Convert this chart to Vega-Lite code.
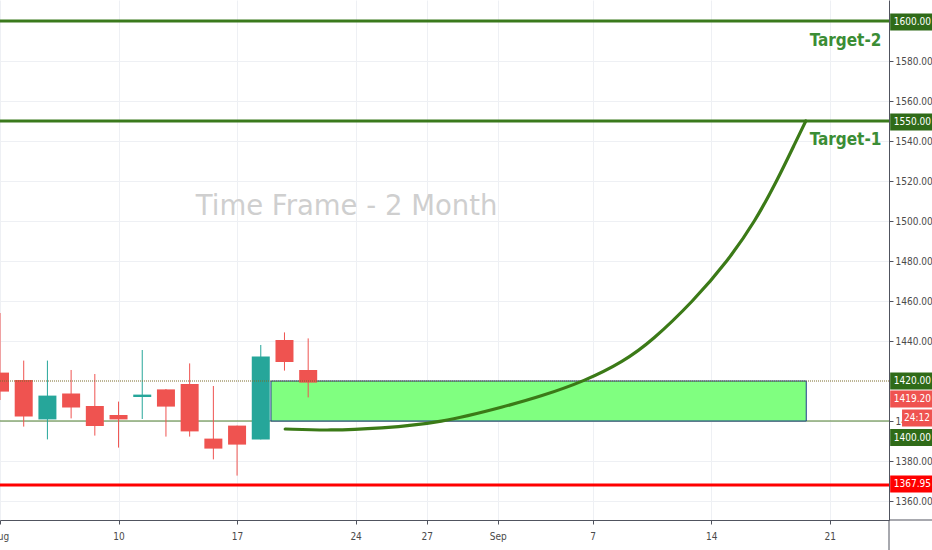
{
  "$schema": "https://vega.github.io/schema/vega-lite/v6.json",
  "width": 889,
  "height": 520,
  "autosize": {"type": "none"},
  "padding": {"left": 0, "top": 0, "right": 43, "bottom": 30},
  "background": "white",
  "view": {"stroke": null},
  "config": {
    "font": "DejaVu Sans Condensed",
    "scale": {"continuousPadding": 0},
    "axis": {
      "domainColor": "#50535e",
      "tickColor": "#50535e",
      "labelColor": "#4a4a4a",
      "labelFontSize": 10,
      "labelFont": "DejaVu Sans Condensed",
      "gridColor": "#eef0f4",
      "gridWidth": 1,
      "tickSize": 4,
      "domainWidth": 1
    }
  },
  "datasets": {
    "candles": [
      {"d": "2020-08-03", "i": 0, "o": 1424.2, "h": 1454, "l": 1410.5, "c": 1414.7},
      {"d": "2020-08-04", "i": 1, "o": 1420.5, "h": 1430.2, "l": 1397.2, "c": 1402.2},
      {"d": "2020-08-05", "i": 2, "o": 1400.8, "h": 1430.2, "l": 1390.8, "c": 1412.7},
      {"d": "2020-08-06", "i": 3, "o": 1413.7, "h": 1425.5, "l": 1401.3, "c": 1406.8},
      {"d": "2020-08-07", "i": 4, "o": 1407.5, "h": 1423.5, "l": 1392.7, "c": 1397.5},
      {"d": "2020-08-10", "i": 5, "o": 1403, "h": 1409.7, "l": 1386.7, "c": 1400.8},
      {"d": "2020-08-11", "i": 6, "o": 1412, "h": 1435.5, "l": 1401, "c": 1413.2},
      {"d": "2020-08-12", "i": 7, "o": 1415.8, "h": 1416, "l": 1392.2, "c": 1407.2},
      {"d": "2020-08-13", "i": 8, "o": 1418.5, "h": 1428.8, "l": 1392.2, "c": 1394.8},
      {"d": "2020-08-14", "i": 9, "o": 1391.2, "h": 1417.5, "l": 1380.8, "c": 1386.2},
      {"d": "2020-08-17", "i": 10, "o": 1397.7, "h": 1397.7, "l": 1372.7, "c": 1388.2},
      {"d": "2020-08-18", "i": 11, "o": 1390.8, "h": 1438, "l": 1390.8, "c": 1432.2},
      {"d": "2020-08-19", "i": 12, "o": 1440.5, "h": 1444.3, "l": 1425.2, "c": 1429.5},
      {"d": "2020-08-20", "i": 13, "o": 1425.5, "h": 1441.3, "l": 1411.8, "c": 1419.2}
    ],
    "curve": [
      {"i": 12.03, "v": 1396.0},
      {"i": 13.92, "v": 1395.2},
      {"i": 16.03, "v": 1396.3},
      {"i": 18.57, "v": 1398.9},
      {"i": 21.38, "v": 1407.5},
      {"i": 22.78, "v": 1412.2},
      {"i": 24.68, "v": 1420.0},
      {"i": 26.3, "v": 1429.7},
      {"i": 27.5, "v": 1440.0},
      {"i": 29.25, "v": 1460.0},
      {"i": 30.7, "v": 1480.0},
      {"i": 31.86, "v": 1500.0},
      {"i": 32.77, "v": 1520.0},
      {"i": 33.58, "v": 1540.0},
      {"i": 33.99, "v": 1550.0}
    ],
    "tags": [
      {"v": 1599.5, "label": "1600.00", "k": "target"},
      {"v": 1549.5, "label": "1550.00", "k": "target"},
      {"v": 1420, "label": "1420.00", "k": "target"},
      {"v": 1411, "label": "1419.20", "k": "last"},
      {"v": 1391.75, "label": "1400.00", "k": "target"},
      {"v": 1368.5, "label": "1367.95", "k": "stop"}
    ]
  },
  "layer": [
    {
      "data": {"values": [{"v": 1400}]},
      "mark": {"type": "rule", "color": "#4e7f2e", "strokeWidth": 1},
      "encoding": {
        "y": {"field": "v", "type": "quantitative", "scale": {"domain": [1350.5, 1610.5], "nice": false, "zero": false, "padding": 0}, "title": null}
      }
    },
    {
      "data": {"values": [{"x1": 11.43, "x2": 34.01, "lo": 1400, "hi": 1420}]},
      "mark": {"type": "rect", "fill": "#80ff80", "stroke": "#1e3c8c", "strokeWidth": 1},
      "encoding": {
        "x": {"field": "x1", "type": "quantitative", "scale": {"domain": [0, 37.5], "nice": false, "zero": false, "padding": 0}, "title": null},
        "x2": {"field": "x2"},
        "y": {"field": "hi", "type": "quantitative", "scale": {"domain": [1350.5, 1610.5], "nice": false, "zero": false, "padding": 0}, "title": null},
        "y2": {"field": "lo"}
      }
    },
    {
      "data": {"name": "candles"},
      "mark": {"type": "rule", "strokeWidth": 1},
      "encoding": {
        "x": {"field": "i", "type": "quantitative", "scale": {"domain": [0, 37.5], "nice": false, "zero": false, "padding": 0}, "title": null,
          "axis": {"orient": "bottom", "values": [0, 5, 10, 15, 18, 21, 25, 30, 35],
            "labelExpr": "['Aug','10','17','24','27','Sep','7','14','21'][indexof([0,5,10,15,18,21,25,30,35], datum.value)]",
            "labelFlush": false, "labelPadding": 7, "grid": true, "labelOverlap": false}},
        "y": {"field": "l", "type": "quantitative", "scale": {"domain": [1350.5, 1610.5], "nice": false, "zero": false, "padding": 0}, "title": null,
          "axis": {"orient": "right", "values": [1360, 1380, 1400, 1440, 1460, 1480, 1500, 1520, 1540, 1560, 1580],
            "format": ".2f", "labelPadding": 2, "grid": true, "labelOverlap": false}},
        "y2": {"field": "h"},
        "color": {"condition": {"test": "datum.c >= datum.o", "value": "#26a69a"}, "value": "#ef5350"}
      }
    },
    {
      "data": {"name": "candles"},
      "mark": {"type": "bar", "size": 18},
      "encoding": {
        "x": {"field": "i", "type": "quantitative", "scale": {"domain": [0, 37.5], "nice": false, "zero": false, "padding": 0}, "title": null},
        "y": {"field": "o", "type": "quantitative", "scale": {"domain": [1350.5, 1610.5], "nice": false, "zero": false, "padding": 0}, "title": null},
        "y2": {"field": "c"},
        "color": {"condition": {"test": "datum.c >= datum.o", "value": "#26a69a"}, "value": "#ef5350"}
      }
    },
    {
      "data": {"values": [{"v": 1420}]},
      "mark": {"type": "rule", "color": "#7b6b2a", "strokeWidth": 1, "strokeDash": [1, 1]},
      "encoding": {
        "y": {"field": "v", "type": "quantitative", "scale": {"domain": [1350.5, 1610.5], "nice": false, "zero": false, "padding": 0}, "title": null}
      }
    },
    {
      "data": {"values": [{"v": 1600}, {"v": 1550}]},
      "mark": {"type": "rule", "color": "#3a7a1c", "strokeWidth": 3},
      "encoding": {
        "y": {"field": "v", "type": "quantitative", "scale": {"domain": [1350.5, 1610.5], "nice": false, "zero": false, "padding": 0}, "title": null}
      }
    },
    {
      "data": {"values": [{"v": 1367.95}]},
      "mark": {"type": "rule", "color": "#ff0000", "strokeWidth": 3},
      "encoding": {
        "y": {"field": "v", "type": "quantitative", "scale": {"domain": [1350.5, 1610.5], "nice": false, "zero": false, "padding": 0}, "title": null}
      }
    },
    {
      "data": {"name": "curve"},
      "mark": {"type": "line", "interpolate": "basis", "color": "#3b7a17", "strokeWidth": 3.2, "strokeCap": "round"},
      "encoding": {
        "x": {"field": "i", "type": "quantitative", "scale": {"domain": [0, 37.5], "nice": false, "zero": false, "padding": 0}, "title": null},
        "y": {"field": "v", "type": "quantitative", "scale": {"domain": [1350.5, 1610.5], "nice": false, "zero": false, "padding": 0}, "title": null}
      }
    },
    {
      "data": {"values": [{"i": 14.62, "v": 1507, "t": "Time Frame - 2 Month"}]},
      "mark": {"type": "text", "font": "DejaVu Sans", "fontSize": 27.5, "color": "#cfcfcf", "align": "center", "baseline": "middle"},
      "encoding": {
        "x": {"field": "i", "type": "quantitative", "scale": {"domain": [0, 37.5], "nice": false, "zero": false, "padding": 0}, "title": null},
        "y": {"field": "v", "type": "quantitative", "scale": {"domain": [1350.5, 1610.5], "nice": false, "zero": false, "padding": 0}, "title": null},
        "text": {"field": "t"}
      }
    },
    {
      "data": {"values": [{"i": 37.18, "v": 1590, "t": "Target-2"}, {"i": 37.18, "v": 1540.5, "t": "Target-1"}]},
      "mark": {"type": "text", "font": "DejaVu Sans Condensed", "fontWeight": "bold", "fontSize": 17, "color": "#3b8d35", "align": "right", "baseline": "middle"},
      "encoding": {
        "x": {"field": "i", "type": "quantitative", "scale": {"domain": [0, 37.5], "nice": false, "zero": false, "padding": 0}, "title": null},
        "y": {"field": "v", "type": "quantitative", "scale": {"domain": [1350.5, 1610.5], "nice": false, "zero": false, "padding": 0}, "title": null},
        "text": {"field": "t"}
      }
    },
    {
      "data": {"name": "tags"},
      "mark": {"type": "bar", "size": 17},
      "encoding": {
        "x": {"datum": 37.55, "type": "quantitative", "scale": {"domain": [0, 37.5], "nice": false, "zero": false, "padding": 0}, "title": null},
        "x2": {"datum": 39.6},
        "y": {"field": "v", "type": "quantitative", "scale": {"domain": [1350.5, 1610.5], "nice": false, "zero": false, "padding": 0}, "title": null},
        "color": {"field": "k", "type": "nominal", "scale": {"domain": ["target", "last", "stop"], "range": ["#2f6b18", "#ef5350", "#ff0000"]}, "legend": null}
      }
    },
    {
      "data": {"values": [{"v": 1401.5, "label": "24:12"}]},
      "mark": {"type": "bar", "size": 17, "color": "#ef5350"},
      "encoding": {
        "x": {"datum": 38.05, "type": "quantitative", "scale": {"domain": [0, 37.5], "nice": false, "zero": false, "padding": 0}, "title": null},
        "x2": {"datum": 39.6},
        "y": {"field": "v", "type": "quantitative", "scale": {"domain": [1350.5, 1610.5], "nice": false, "zero": false, "padding": 0}, "title": null}
      }
    },
    {
      "data": {"name": "tags"},
      "mark": {"type": "text", "align": "left", "baseline": "middle", "fontSize": 10, "color": "white", "font": "DejaVu Sans Condensed"},
      "encoding": {
        "x": {"datum": 37.7, "type": "quantitative", "scale": {"domain": [0, 37.5], "nice": false, "zero": false, "padding": 0}, "title": null},
        "y": {"field": "v", "type": "quantitative", "scale": {"domain": [1350.5, 1610.5], "nice": false, "zero": false, "padding": 0}, "title": null},
        "text": {"field": "label"}
      }
    },
    {
      "data": {"values": [{"v": 1401.5, "label": "24:12"}]},
      "mark": {"type": "text", "align": "left", "baseline": "middle", "fontSize": 10, "color": "white", "font": "DejaVu Sans Condensed"},
      "encoding": {
        "x": {"datum": 38.13, "type": "quantitative", "scale": {"domain": [0, 37.5], "nice": false, "zero": false, "padding": 0}, "title": null},
        "y": {"field": "v", "type": "quantitative", "scale": {"domain": [1350.5, 1610.5], "nice": false, "zero": false, "padding": 0}, "title": null},
        "text": {"field": "label"}
      }
    },
    {
      "data": {"values": [{"a": 37.5, "b": 39.6, "v": 1350.5}]},
      "mark": {"type": "rule", "color": "#50535e", "strokeWidth": 1},
      "encoding": {
        "x": {"field": "a", "type": "quantitative", "scale": {"domain": [0, 37.5], "nice": false, "zero": false, "padding": 0}, "title": null},
        "x2": {"field": "b"},
        "y": {"field": "v", "type": "quantitative", "scale": {"domain": [1350.5, 1610.5], "nice": false, "zero": false, "padding": 0}, "title": null}
      }
    },
    {
      "data": {"values": [{"a": 37.5, "v": 1350.5, "w": 1334}]},
      "mark": {"type": "rule", "color": "#50535e", "strokeWidth": 1},
      "encoding": {
        "x": {"field": "a", "type": "quantitative", "scale": {"domain": [0, 37.5], "nice": false, "zero": false, "padding": 0}, "title": null},
        "y": {"field": "v", "type": "quantitative", "scale": {"domain": [1350.5, 1610.5], "nice": false, "zero": false, "padding": 0}, "title": null},
        "y2": {"field": "w"}
      }
    }
  ]
}
